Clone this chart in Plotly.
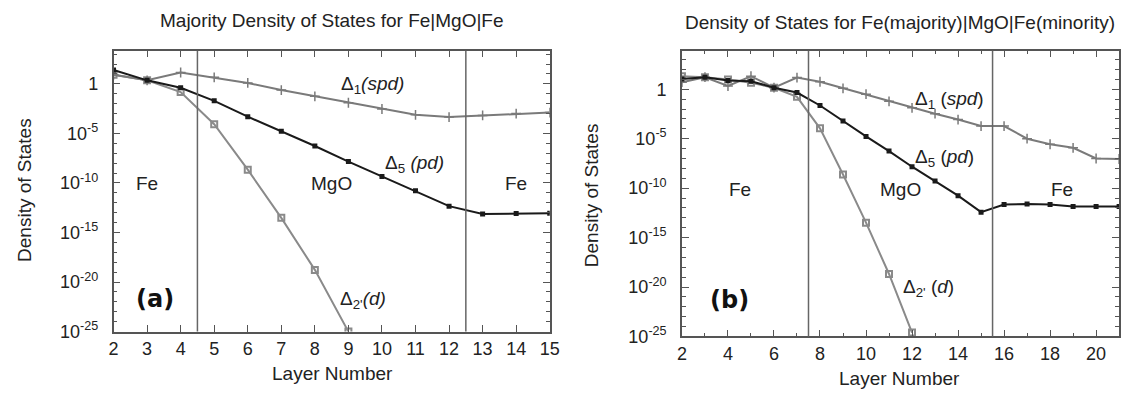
import plotly.graph_objects as go

# ---------------- data ----------------
layers_a = list(range(2, 16))
delta1_a = [0.92, 0.36, 1.15, 0.66, 0.10, -0.62, -1.25, -1.90, -2.53, -3.12, -3.35, -3.18, -2.99, -2.89]
delta5_a = [1.41, 0.36, -0.39, -1.71, -3.31, -4.79, -6.27, -7.84, -9.35, -10.79, -12.34, -13.12, -13.09, -13.06]
layers_a2 = list(range(2, 10))
delta2_a = [0.92, 0.36, -0.82, -4.07, -8.66, -13.52, -18.77, -25.0]

layers_b = list(range(2, 22))
delta1_b = [0.72, 1.22, 0.33, 1.32, 0.16, 1.18, 0.76, 0.10, -0.49, -1.22, -1.88, -2.47, -3.06, -3.72,
            -3.72, -5.00, -5.56, -5.92, -7.00, -7.05]
delta5_b = [1.05, 1.22, 0.89, 0.82, 0.16, -0.33, -1.64, -3.22, -4.77, -6.25, -7.83, -9.28, -10.76, -12.43,
            -11.66, -11.60, -11.66, -11.86, -11.86, -11.86]
layers_b2 = list(range(2, 13))
delta2_b = [1.32, 1.22, 0.99, 0.66, 0.16, -0.76, -3.95, -8.62, -13.49, -18.68, -24.6]

boundaries_a = [4.5, 12.5]
boundaries_b = [7.5, 15.5]

ytick_exp = [-25, -20, -15, -10, -5, 0]
ytick_text = ["10<sup>-25</sup>", "10<sup>-20</sup>", "10<sup>-15</sup>", "10<sup>-10</sup>", "10<sup>-5</sup>", "1"]

# ---------------- figure ----------------
W, H = 1137, 405
FONT = "Liberation Sans, Arial, sans-serif"
TXT = "#222222"
AX = "#555555"


def P(x, y):
    return x / W, 1 - y / H


def pw(v):
    return [10 ** e for e in v]


fig = go.Figure()

g1 = dict(color="#7a7a7a", width=2)
g2 = dict(color="#8a8a8a", width=2)
bk = dict(color="#1a1a1a", width=2)

for (xa, ya, xs1, d1, d5, xs2, d2) in [
    ("x", "y", layers_a, delta1_a, delta5_a, layers_a2, delta2_a),
    ("x2", "y2", layers_b, delta1_b, delta5_b, layers_b2, delta2_b),
]:
    fig.add_trace(go.Scatter(x=xs2, y=pw(d2), mode="lines+markers", xaxis=xa, yaxis=ya,
                             line=g2,
                             marker=dict(symbol="square-open", size=6, color="#8a8a8a",
                                         line=dict(width=2, color="#8a8a8a")),
                             showlegend=False))
    fig.add_trace(go.Scatter(x=xs1, y=pw(d1), mode="lines+markers", xaxis=xa, yaxis=ya,
                             line=g1,
                             marker=dict(symbol="cross-thin", size=7,
                                         line=dict(width=1.5, color="#7a7a7a")),
                             showlegend=False))
    fig.add_trace(go.Scatter(x=xs1, y=pw(d5), mode="lines+markers", xaxis=xa, yaxis=ya,
                             line=bk,
                             marker=dict(symbol="square", size=5, color="#1a1a1a"),
                             showlegend=False))

for b in boundaries_a:
    fig.add_shape(type="line", xref="x", yref="y domain", x0=b, x1=b, y0=0, y1=1,
                  line=dict(color="#666666", width=1.5))
for b in boundaries_b:
    fig.add_shape(type="line", xref="x2", yref="y2 domain", x0=b, x1=b, y0=0, y1=1,
                  line=dict(color="#666666", width=1.5))

axis_common = dict(showline=True, mirror="allticks", linecolor=AX, linewidth=1.5,
                   ticks="inside", tickcolor=AX, ticklen=7, tickwidth=1,
                   showgrid=False, zeroline=False,
                   tickfont=dict(family=FONT, size=18, color=TXT))

ytick_vals = [10 ** e for e in ytick_exp]

fig.update_layout(
    width=W, height=H, margin=dict(l=0, r=0, t=0, b=0),
    plot_bgcolor="white", paper_bgcolor="white",
    xaxis=dict(domain=[110 / W, 552 / W], range=[2, 15], tickmode="linear", tick0=2, dtick=1,
               anchor="y", **axis_common),
    yaxis=dict(domain=[1 - 340 / H, 1 - 52 / H], type="log", range=[-25, 3.35],
               tickvals=ytick_vals, ticktext=ytick_text, anchor="x", ticklabelstandoff=10,
               minor=dict(tickvals=[10 ** k for k in range(-25, 4)], ticks="inside", ticklen=4,
                          tickcolor=AX),
               **axis_common),
    xaxis2=dict(domain=[686 / W, 1129 / W], range=[2, 21], tickmode="linear", tick0=2, dtick=2,
                anchor="y2",
                minor=dict(dtick=1, ticks="inside", ticklen=4, tickcolor=AX),
                **axis_common),
    yaxis2=dict(domain=[1 - 345 / H, 1 - 52 / H], type="log", range=[-25, 3.9],
                tickvals=ytick_vals, ticktext=ytick_text, anchor="x2", ticklabelstandoff=10,
                minor=dict(tickvals=[10 ** k for k in range(-25, 4)], ticks="inside", ticklen=4,
                           tickcolor=AX),
                **axis_common),
)


def ann(text, x, y, size=19, xanchor="center", yanchor="middle", angle=0, family=FONT, color=TXT):
    px, py = P(x, y)
    fig.add_annotation(text=text, x=px, y=py, xref="paper", yref="paper", showarrow=False,
                       xanchor=xanchor, yanchor=yanchor, textangle=angle,
                       font=dict(family=family, size=size, color=color))


# titles
ann("Majority Density of States for Fe|MgO|Fe", 331, 21, size=19)
ann("Density of States for Fe(majority)|MgO|Fe(minority)", 907, 23, size=19)
# axis titles
ann("Density of States", 19, 195, size=19, angle=-90)
ann("Density of States", 594, 200, size=19, angle=-90)
ann("Layer Number", 332, 383, size=19)
ann("Layer Number", 906, 388, size=19)

# panel a labels
ann("Δ<sub>1</sub><i>(spd)</i>", 338, 87, xanchor="left")
ann("Δ<sub>5</sub> <i>(pd)</i>", 383, 168, xanchor="left")
ann("Δ<sub>2'</sub><i>(d)</i>", 337, 308, xanchor="left")
ann("Fe", 144, 188)
ann("MgO", 331, 188)
ann("Fe", 518, 188)
ann("<b>(a)</b>", 152, 307, size=24, family="DejaVu Sans, sans-serif", color="#111111")

# panel b labels
ann("Δ<sub>1</sub> (<i>spd</i>)", 920, 103, xanchor="left")
ann("Δ<sub>5</sub> (<i>pd</i>)", 920, 162, xanchor="left")
ann("Δ<sub>2'</sub> (<i>d</i>)", 908, 295, xanchor="left")
ann("Fe", 745, 194)
ann("MgO", 907, 194)
ann("Fe", 1071, 194)
ann("<b>(b)</b>", 734, 308, size=24, family="DejaVu Sans, sans-serif", color="#111111")

fig.write_html("out.html")
